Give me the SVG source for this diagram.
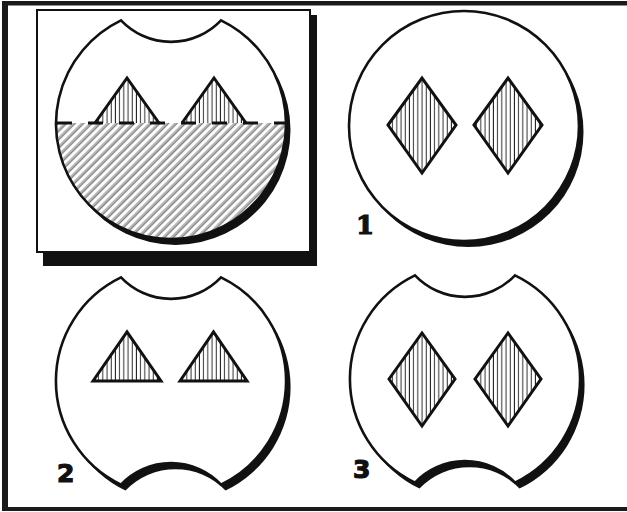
<svg xmlns="http://www.w3.org/2000/svg" xmlns:xlink="http://www.w3.org/1999/xlink" width="627" height="512" viewBox="0 0 627 512">
<style>
.outline{fill:#fff;stroke:#111;stroke-width:2.6;stroke-linejoin:miter}
.shadow{fill:#111}
.vh{fill:url(#vhatch);stroke:#111;stroke-width:3;stroke-linejoin:miter}
.side{fill:none;stroke:#111;stroke-width:3;stroke-linejoin:miter}
.lbl{font-family:"DejaVu Sans","Liberation Sans",sans-serif;font-weight:bold;font-size:25px;fill:#111;stroke:#111;stroke-width:1.2}
.lbls{font-family:"DejaVu Serif","Liberation Serif",serif;font-weight:bold;font-size:26px;fill:#111;stroke:#111;stroke-width:1.2}
</style>
<defs>
<pattern id="vhatch" patternUnits="userSpaceOnUse" width="4.2" height="10">
<line x1="2" y1="0" x2="2" y2="10" stroke="#111" stroke-width="0.9"/>
</pattern>
<pattern id="dhatch" patternUnits="userSpaceOnUse" width="6" height="10" patternTransform="rotate(45)">
<line x1="1" y1="0" x2="1" y2="10" stroke="#222" stroke-width="0.65"/>
<line x1="2.6" y1="0" x2="2.6" y2="10" stroke="#222" stroke-width="0.65"/>
</pattern>
<path id="notch1" d="M-50,-103.6 A69,69 0 0 0 50,-103.6 A115,115 0 1 1 -50,-103.6 Z"/>
<path id="notch2" d="M-50,-103.6 A69,69 0 0 0 50,-103.6 A115,115 0 0 1 50,103.6 A69,69 0 0 0 -50,103.6 A115,115 0 0 1 -50,-103.6 Z"/>
</defs>

<g id="frame">
<rect x="2" y="1" width="625" height="4.5" fill="#1a1a1a"/>
<rect x="2" y="1" width="6" height="510" fill="#1a1a1a"/>
<rect x="2" y="507" width="625" height="4" fill="#1a1a1a"/>
</g>

<g id="inset">
<rect x="43" y="15" width="274" height="251" class="shadow"/>
<rect x="37" y="10" width="273" height="242" fill="#fff" stroke="#111" stroke-width="2"/>
</g>

<g id="figure-a">
<use xlink:href="#notch1" class="shadow" transform="translate(175.5,130)"/>
<use xlink:href="#notch1" class="outline" transform="translate(171,124)"/>
<path d="M56,123 A115,115 0 1 0 286,123 Z" fill="url(#dhatch)"/>
<polygon points="95,123 127,78 159,123" fill="url(#vhatch)"/>
<polygon points="182,123 214,78 246,123" fill="url(#vhatch)"/>
<polyline points="95,123 127,78 159,123" class="side"/>
<polyline points="182,123 214,78 246,123" class="side"/>
<line x1="57" y1="123" x2="287" y2="123" stroke="#111" stroke-width="3" stroke-dasharray="15 16"/>
</g>

<g id="figure-1">
<circle cx="468.5" cy="132" r="115" class="shadow"/>
<circle cx="464" cy="126" r="115" class="outline"/>
<polygon points="388,125 422,78 456,125 422,173" class="vh"/>
<polygon points="474,125 508,78 542,125 508,173" class="vh"/>
<text x="356" y="234" class="lbls">1</text>
</g>

<g id="figure-2">
<use xlink:href="#notch2" class="shadow" transform="translate(175.5,387)"/>
<use xlink:href="#notch2" class="outline" transform="translate(171,381)"/>
<polygon points="93,381 127,332 161,381" class="vh"/>
<polygon points="180,381 213.5,332 247,381" class="vh"/>
<text x="57" y="482" class="lbl">2</text>
</g>

<g id="figure-3">
<use xlink:href="#notch2" class="shadow" transform="translate(469.5,385)"/>
<use xlink:href="#notch2" class="outline" transform="translate(465,379)"/>
<polygon points="389,379 422,333 455,379 422,426" class="vh"/>
<polygon points="475,379 508,333 541,379 508,426" class="vh"/>
<text x="353" y="478" class="lbl">3</text>
</g>
</svg>
